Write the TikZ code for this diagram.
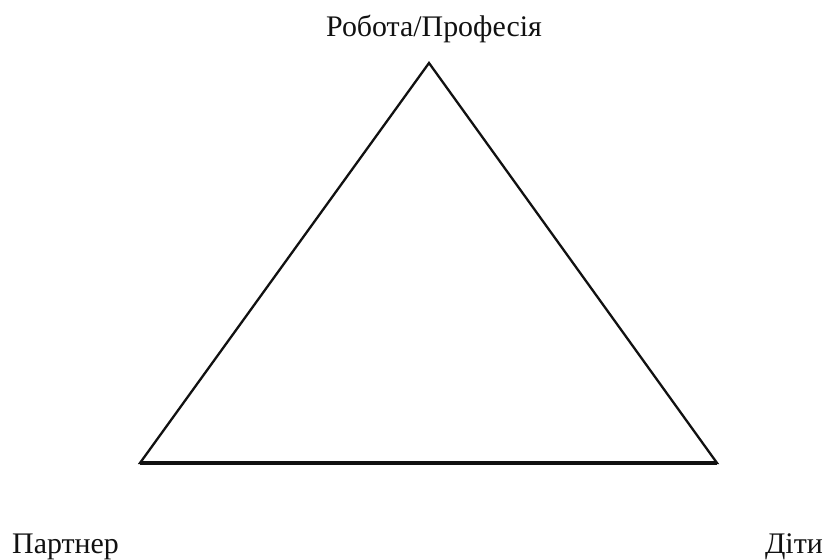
\documentclass[tikz,border=0pt]{standalone}
\usepackage{fontspec}
\setmainfont{Liberation Serif}
\usetikzlibrary{positioning}
\definecolor{ink}{HTML}{111111}
\tikzset{
  every node/.style={text=ink},
  lab/.style={font=\fontsize{30}{34}\selectfont, inner sep=0pt},
  edge/.style={draw=ink, line width=2.3bp, line join=miter},
}

\begin{document}
\begin{tikzpicture}[x=1bp,y=-1bp]
\useasboundingbox (0,0) rectangle (826,560);

% ---------------- corners ----------------
\coordinate (top) at (429,63);
\coordinate (bl) at (140,463);
\coordinate (br) at (717,463);

% ---------------- labels ----------------
\node[lab, anchor=base] (work) at (434,37) {Робота/Професія};
\node[lab, anchor=base west] (partner) at (12,553) {Партнер};
\node[lab, anchor=base east] (kids) at (823,553) {Діти};

% ---------------- triangle ----------------
\draw[edge] (top) -- (br) -- (bl) -- cycle;
\draw[edge, line width=3.2bp] (bl) -- (br);

\end{tikzpicture}
\end{document}
